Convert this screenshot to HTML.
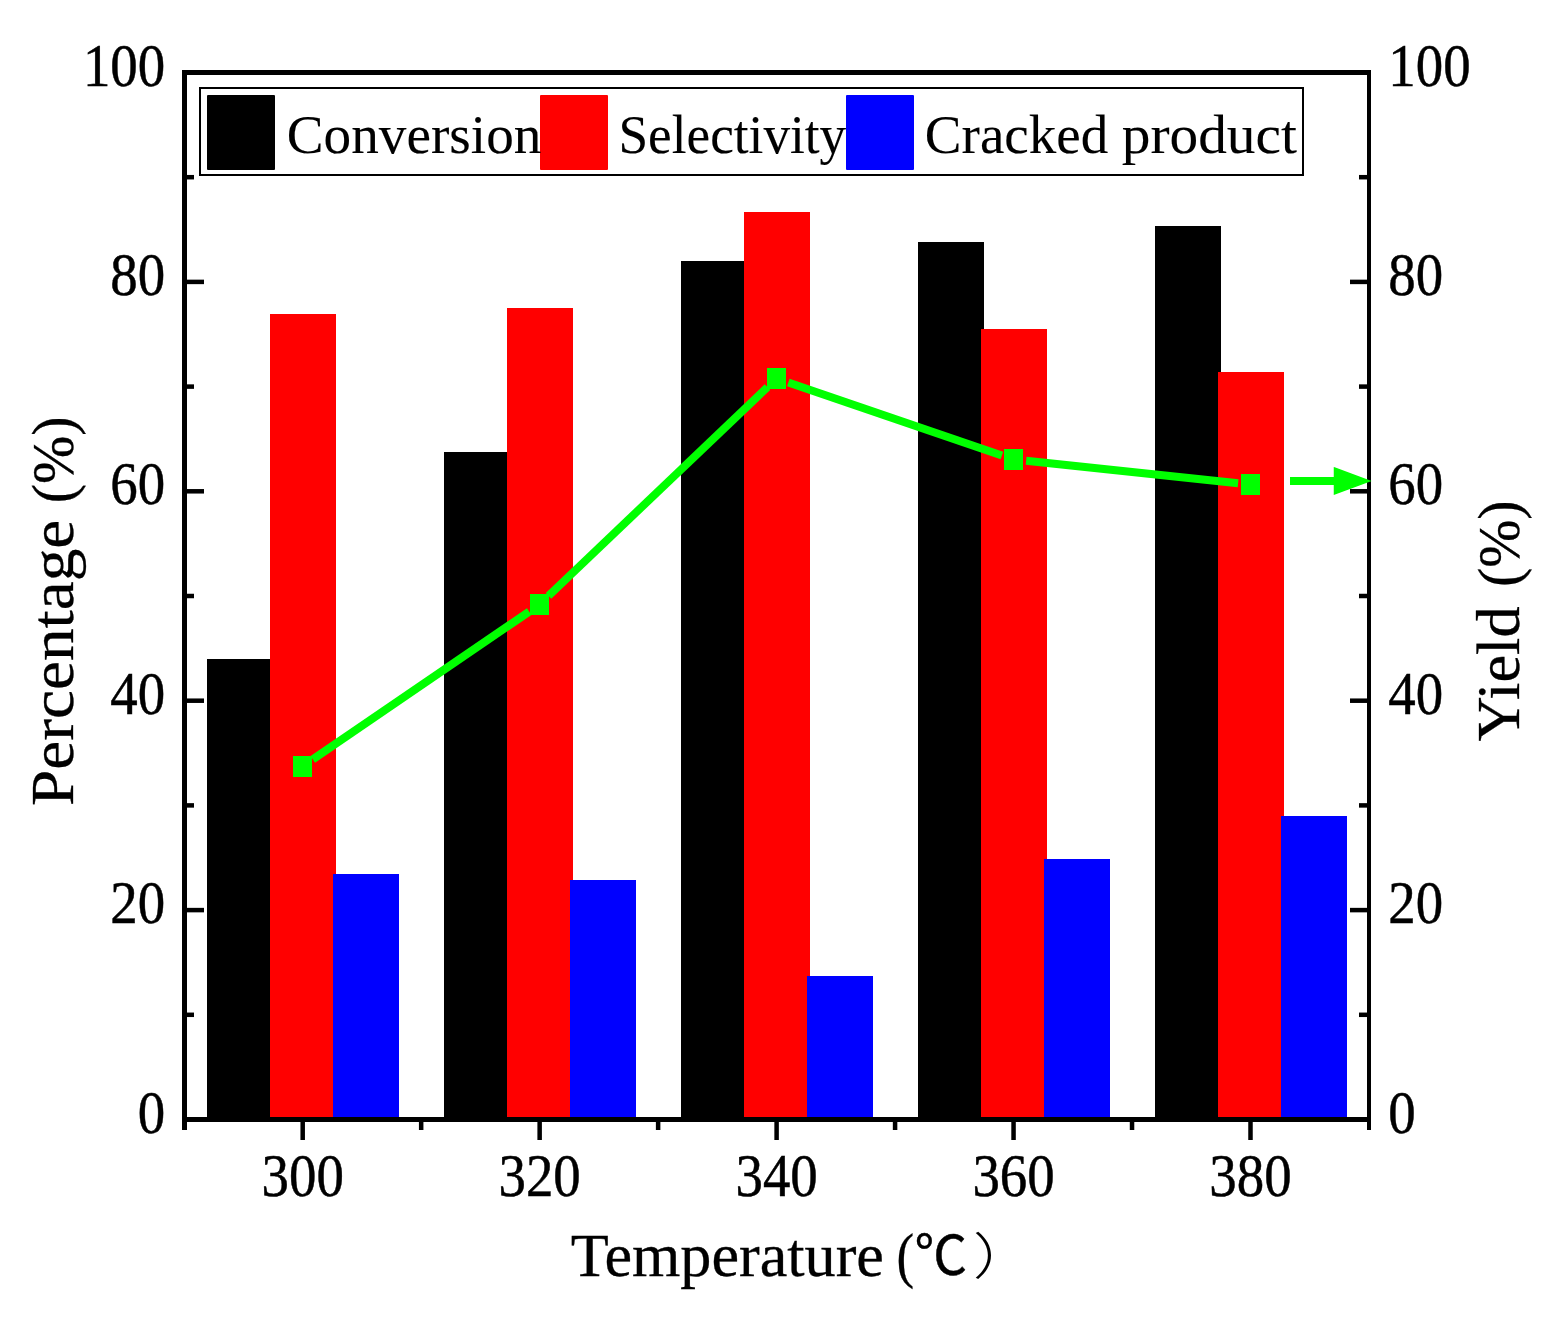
<!DOCTYPE html>
<html lang="en"><head><meta charset="utf-8"><title>Conversion, selectivity and yield vs temperature</title>
<style>html,body{margin:0;padding:0;background:#fff}svg{display:block}text{fill:#000;stroke:#000;stroke-width:0.5}.s{font-family:"Liberation Serif", serif}.c{font-family:"Noto Sans CJK SC", sans-serif}</style></head><body>
<svg width="1556" height="1339" viewBox="0 0 1556 1339">
<rect width="1556" height="1339" fill="#fff"/>
<g shape-rendering="crispEdges">
<rect x="206.7" y="659" width="66" height="461" fill="#000"/>
<rect x="269.7" y="314" width="66" height="806" fill="#f00"/>
<rect x="332.7" y="874" width="66" height="246" fill="#00f"/>
<rect x="443.7" y="452" width="66" height="668" fill="#000"/>
<rect x="506.7" y="308" width="66" height="812" fill="#f00"/>
<rect x="569.7" y="880" width="66" height="240" fill="#00f"/>
<rect x="680.6" y="261" width="66" height="859" fill="#000"/>
<rect x="743.6" y="212" width="66" height="908" fill="#f00"/>
<rect x="806.6" y="976" width="66" height="144" fill="#00f"/>
<rect x="917.6" y="242" width="66" height="878" fill="#000"/>
<rect x="980.6" y="329" width="66" height="791" fill="#f00"/>
<rect x="1043.6" y="859" width="66" height="261" fill="#00f"/>
<rect x="1154.5" y="226" width="66" height="894" fill="#000"/>
<rect x="1217.5" y="372" width="66" height="748" fill="#f00"/>
<rect x="1280.5" y="816" width="66" height="304" fill="#00f"/>
</g>
<g stroke="#0f0" stroke-width="8" fill="none">
<line x1="312.8" y1="759.4" x2="529.2" y2="611.6"/>
<line x1="548.5" y1="595.9" x2="767.5" y2="387.1"/>
<line x1="788.3" y1="382.5" x2="1001.9" y2="455.5"/>
<line x1="1026.1" y1="460.8" x2="1238.1" y2="483.2"/>
</g>
<g fill="#0f0" shape-rendering="crispEdges">
<rect x="293" y="756" width="19" height="21"/>
<rect x="530" y="594" width="19" height="21"/>
<rect x="767" y="368" width="19" height="21"/>
<rect x="1004" y="449" width="19" height="21"/>
<rect x="1241" y="474" width="19" height="21"/>
</g>
<g fill="#000" shape-rendering="crispEdges">
<rect x="182" y="70" width="5" height="1060"/>
<rect x="1367" y="70" width="4" height="1060"/>
<rect x="182" y="70" width="1189" height="5"/>
<rect x="182" y="1117" width="1189" height="5"/>
</g><g fill="#000">
<rect x="187" y="1012.55" width="7" height="4.5"/>
<rect x="1359" y="1012.55" width="8" height="4.5"/>
<rect x="187" y="907.85" width="17" height="4.5"/>
<rect x="1350" y="907.85" width="17" height="4.5"/>
<rect x="187" y="803.15" width="7" height="4.5"/>
<rect x="1359" y="803.15" width="8" height="4.5"/>
<rect x="187" y="698.45" width="17" height="4.5"/>
<rect x="1350" y="698.45" width="17" height="4.5"/>
<rect x="187" y="593.75" width="7" height="4.5"/>
<rect x="1359" y="593.75" width="8" height="4.5"/>
<rect x="187" y="489.05" width="17" height="4.5"/>
<rect x="1350" y="489.05" width="17" height="4.5"/>
<rect x="187" y="384.35" width="7" height="4.5"/>
<rect x="1359" y="384.35" width="8" height="4.5"/>
<rect x="187" y="279.65" width="17" height="4.5"/>
<rect x="1350" y="279.65" width="17" height="4.5"/>
<rect x="187" y="174.95" width="7" height="4.5"/>
<rect x="1359" y="174.95" width="8" height="4.5"/>
<rect x="300.45" y="1122" width="4.5" height="18"/>
<rect x="418.92" y="1122" width="4.5" height="8"/>
<rect x="537.40" y="1122" width="4.5" height="18"/>
<rect x="655.88" y="1122" width="4.5" height="8"/>
<rect x="774.35" y="1122" width="4.5" height="18"/>
<rect x="892.83" y="1122" width="4.5" height="8"/>
<rect x="1011.30" y="1122" width="4.5" height="18"/>
<rect x="1129.78" y="1122" width="4.5" height="8"/>
<rect x="1248.25" y="1122" width="4.5" height="18"/>
</g>
<g fill="#0f0"><rect x="1290" y="477" width="46" height="8"/><polygon points="1334.5,468 1369.5,481 1334.5,494" stroke="#0f0" stroke-width="1.5" stroke-linejoin="miter"/></g>
<rect x="200" y="88" width="1103" height="87" fill="none" stroke="#000" stroke-width="2"/>
<rect x="207" y="95" width="68" height="75" rx="1" fill="#000"/>
<rect x="540" y="95" width="68" height="75" rx="1" fill="#f00"/>
<rect x="846" y="95" width="68" height="75" rx="1" fill="#00f"/>
<text class="s" style="stroke-width:0.1" font-size="55.5" transform="translate(286.80,152.7) scale(0.9949,1)">Conversion</text>
<text class="s" style="stroke-width:0.1" font-size="55.5" transform="translate(618.50,152.7) scale(0.9599,1)">Selectivity</text>
<text class="s" style="stroke-width:0.1" font-size="55.5" transform="translate(924.80,152.7) scale(0.9931,1)">Cracked</text>
<text class="s" style="stroke-width:0.1" font-size="55.5" transform="translate(1121.80,152.7) scale(1.0332,1)">product</text>
<g class="s" font-size="62">
<text text-anchor="end" transform="translate(165.2,1132.60) scale(0.885,1.0)">0</text>
<text transform="translate(1388.3,1132.60) scale(0.885,1.0)">0</text>
<text text-anchor="end" transform="translate(165.2,923.20) scale(0.885,1.0)">20</text>
<text transform="translate(1388.3,923.20) scale(0.885,1.0)">20</text>
<text text-anchor="end" transform="translate(165.2,713.80) scale(0.885,1.0)">40</text>
<text transform="translate(1388.3,713.80) scale(0.885,1.0)">40</text>
<text text-anchor="end" transform="translate(165.2,504.40) scale(0.885,1.0)">60</text>
<text transform="translate(1388.3,504.40) scale(0.885,1.0)">60</text>
<text text-anchor="end" transform="translate(165.2,295.00) scale(0.885,1.0)">80</text>
<text transform="translate(1388.3,295.00) scale(0.885,1.0)">80</text>
<text text-anchor="end" transform="translate(165.2,85.60) scale(0.885,1.0)">100</text>
<text transform="translate(1388.3,85.60) scale(0.885,1.0)">100</text>
<text text-anchor="middle" transform="translate(302.70,1195.9) scale(0.885,1.0)">300</text>
<text text-anchor="middle" transform="translate(539.65,1195.9) scale(0.885,1.0)">320</text>
<text text-anchor="middle" transform="translate(776.60,1195.9) scale(0.885,1.0)">340</text>
<text text-anchor="middle" transform="translate(1013.55,1195.9) scale(0.885,1.0)">360</text>
<text text-anchor="middle" transform="translate(1250.50,1195.9) scale(0.885,1.0)">380</text>
</g>
<text class="s" style="stroke-width:0.3" font-size="61" transform="translate(73,805.96) rotate(-90) scale(1.07,1)">Percentage</text>
<text class="s" style="stroke-width:0.3" font-size="61" transform="translate(73,503.2) rotate(-90) scale(0.9487,0.97)">(%)</text>
<text class="s" style="stroke-width:0.3" font-size="61" transform="translate(1519,741.6) rotate(-90) scale(1.0241,1)">Yield</text>
<text class="s" style="stroke-width:0.3" font-size="61" transform="translate(1519,587.1) rotate(-90) scale(0.9487,0.96)">(%)</text>
<text class="s" style="stroke-width:0.3" font-size="61" transform="translate(570.76,1276) scale(1.0194,1)">Temperature</text>
<text class="s" style="stroke-width:0.3" font-size="61" transform="translate(896.4,1276) scale(0.868,1)">(</text>
<text class="c" style="stroke-width:0.4" font-size="54" font-weight="400" transform="translate(914.6,1275.2) scale(0.977,1)">℃</text>
<text class="c" style="stroke-width:0" font-size="50" font-weight="300" transform="translate(972.8,1273.5) scale(1.277,1)">）</text>
</svg></body></html>
